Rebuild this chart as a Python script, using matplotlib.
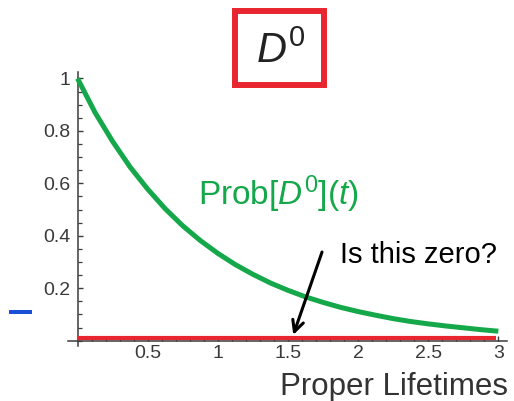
import matplotlib
matplotlib.use('Agg')
import matplotlib.pyplot as plt
from matplotlib.patches import Rectangle
from matplotlib.lines import Line2D
from matplotlib.ticker import MultipleLocator, FixedLocator

## Fonts: Helvetica-like text, italic maths from the same family
plt.rcParams['font.family'] = ['Liberation Sans', 'DejaVu Sans']
plt.rcParams['mathtext.fontset'] = 'custom'
plt.rcParams['mathtext.rm'] = 'Liberation Sans'
plt.rcParams['mathtext.it'] = 'Liberation Sans:italic'

## Values (proper lifetimes, probability)
t_vals = [0.0, 0.125, 0.25, 0.375, 0.5, 0.625, 0.75, 0.875, 1.0, 1.125, 1.25, 1.375, 1.5,
          1.625, 1.75, 1.875, 2.0, 2.125, 2.25, 2.375, 2.5, 2.625, 2.75, 2.875, 3.0]
prob_d0 = [1.000, 0.870, 0.760, 0.662, 0.578, 0.503, 0.438, 0.382, 0.333, 0.290, 0.253, 0.220, 0.192,
           0.167, 0.146, 0.127, 0.111, 0.097, 0.084, 0.073, 0.064, 0.056, 0.049, 0.042, 0.036]
t_bar = [0.0, 0.5, 1.0, 1.5, 2.0, 2.5, 2.98]
prob_d0bar = [0.012, 0.012, 0.012, 0.012, 0.012, 0.012, 0.012]

y_ticks = [0.2, 0.4, 0.6, 0.8, 1.0]
y_ticklabels = ['0.2', '0.4', '0.6', '0.8', '1']
x_ticks = [0.5, 1.0, 1.5, 2.0, 2.5, 3.0]
x_ticklabels = ['0.5', '1', '1.5', '2', '2.5', '3']

green = '#14a84a'
red = '#e8262f'
axis_grey = '#3a3a3a'

W, H = 514, 401
fig = plt.figure(figsize=(W / 100, H / 100), dpi=100)
ax = fig.add_axes([67.7 / W, 1 - 345.9 / H, (506.8 - 67.7) / W, (345.9 - 71.9) / H])
ax.set_xlim(-0.07, 3.06)
ax.set_ylim(-0.02, 1.025)

ax.plot(t_vals, prob_d0, color=green, lw=3.6, solid_capstyle='butt', zorder=3)
ax.plot(t_bar, prob_d0bar, color=red, lw=3.0, solid_capstyle='butt', zorder=4)

## Mathematica-style axes crossing at the origin
for s in ['top', 'right']:
    ax.spines[s].set_visible(False)
ax.spines['left'].set_position(('data', 0))
ax.spines['bottom'].set_position(('data', 0))
for s in ['left', 'bottom']:
    ax.spines[s].set_color(axis_grey)
    ax.spines[s].set_linewidth(1.1)

ax.yaxis.set_major_locator(FixedLocator(y_ticks))
ax.set_yticklabels(y_ticklabels)
ax.yaxis.set_minor_locator(MultipleLocator(0.05))
ax.xaxis.set_major_locator(FixedLocator(x_ticks))
ax.set_xticklabels(x_ticklabels)
ax.xaxis.set_minor_locator(MultipleLocator(0.1))
ax.tick_params(which='major', direction='in', length=3.8, width=1.0, color=axis_grey,
               labelsize=14, labelcolor=axis_grey, pad=3)
ax.tick_params(which='minor', direction='in', length=2.6, width=0.9, color=axis_grey)
ax.tick_params(axis='y', which='major', pad=5)

## Labels on the plot
ax.text(0.859, 0.518, r'Prob[$D^0$]($t$)', color=green, fontsize=24, va='baseline', ha='left')
ax.text(1.871, 0.298, 'Is this zero?', color='black', fontsize=21, va='baseline', ha='left')
ax.annotate('', xy=(1.538, 0.022), xytext=(1.743, 0.338),
            arrowprops=dict(arrowstyle='->,head_length=0.8,head_width=0.4', color='black',
                            lw=2.2, shrinkA=0, shrinkB=0), zorder=6)

fig.text(508 / W, 1 - 395 / H, 'Proper Lifetimes', color='#333333', fontsize=22.5,
         ha='right', va='baseline')

## Boxed title
fig.patches.append(Rectangle((235 / W, 1 - 85 / H), (324 - 235) / W, (85 - 11) / H,
                             transform=fig.transFigure, fill=False, edgecolor=red, lw=4.3))
fig.text(280.5 / W, 1 - 63.3 / H, r'$D^0$', color='#222222', fontsize=30, ha='center', va='baseline')

## Small blue dash at the left edge
fig.add_artist(Line2D([9 / W, 32 / W], [1 - 311.7 / H, 1 - 311.7 / H], color='#1a4fd6', lw=2.9,
                      solid_capstyle='butt'))

fig.savefig('out.png', dpi=100)
